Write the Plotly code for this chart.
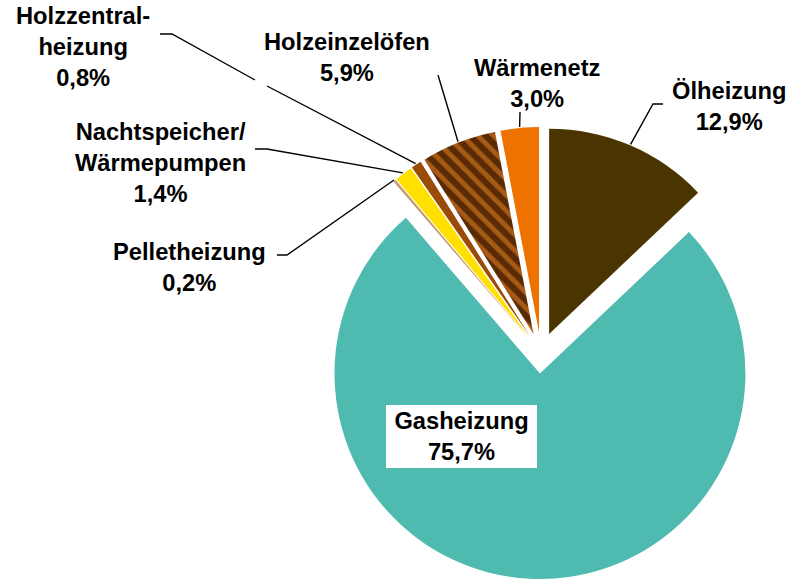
import math
import plotly.graph_objects as go

# ---- data ----
labels = ["Ölheizung", "Gasheizung", "Pelletheizung", "Nachtspeicher/Wärmepumpen",
          "Holzzentralheizung", "Holzeinzelöfen", "Wärmenetz"]
values = [12.9, 75.7, 0.2, 1.4, 0.8, 5.9, 3.0]
label_texts = ["Ölheizung<br>12,9%", "Gasheizung<br>75,7%", "Pelletheizung<br>0,2%",
               "Nachtspeicher/<br>Wärmepumpen<br>1,4%", "Holzzentral-<br>heizung<br>0,8%",
               "Holzeinzelöfen<br>5,9%", "Wärmenetz<br>3,0%"]

colors = ["#4A3500", "#4FBAB0", "#C49A6C", "#FFE000", "#9A4B08", "#5A2A04", "#EE7200"]
pattern_shapes = ["", "", "", "", "", "\\", ""]
pattern_fg = ["#4A3500", "#4FBAB0", "#C49A6C", "#FFE000", "#9A4B08", "#A65A16", "#EE7200"]
pattern_bg = colors

W, H = 792, 579
PULL = 0.10
CX, CY = 541, 353          # pie centre in px (layout)
BOX = 452                  # square domain size in px (layout)

dom_x = [(CX - BOX / 2) / W, (CX + BOX / 2) / W]
dom_y = [1 - (CY + BOX / 2) / H, 1 - (CY - BOX / 2) / H]

fig = go.Figure(go.Pie(
    labels=labels, values=values, sort=False, direction="clockwise", rotation=0,
    pull=[PULL] * len(values), textinfo="none", hoverinfo="label+percent",
    marker=dict(colors=colors, line=dict(width=0),
                pattern=dict(shape=pattern_shapes, fgcolor=pattern_fg, bgcolor=pattern_bg,
                             size=11, solidity=0.45)),
    domain=dict(x=dom_x, y=dom_y), showlegend=False,
))

# label positions (px, layout) for each slice; Gas handled separately
label_pos = {0: (729, 106), 2: (189, 268), 3: (160, 163), 4: (83, 47),
             5: (347, 57), 6: (537, 84)}
# leader-line segments on the label side (px, layout); None = break in line
leader_start = {0: [(663, 104), (653, 104)], 2: [(277, 255), (287, 255)],
                3: [(255, 149), (267, 149)], 4: [(160, 34), (172, 34), (255, 80), None, (267, 86)],
                5: [(438, 75)], 6: [(520, 112)]}

def px2paper(p):
    return p[0] / W, 1 - p[1] / H

R = (BOX / 2) / (1 + PULL)
total = sum(values)
cum = 0.0
font = dict(family="Liberation Sans, Arial, sans-serif", size=23.7, color="black", weight="bold")
for i, v in enumerate(values):
    mid = (cum + v / 2) / total
    cum += v
    th = 2 * math.pi * mid
    ux, uy = math.sin(th), -math.cos(th)
    end = (CX + ((1 + PULL) * R + 1) * ux, CY + ((1 + PULL) * R + 1) * uy)
    if i == 1:
        continue
    pts = leader_start[i] + [end]
    path = ""
    move = True
    for p in pts:
        if p is None:
            move = True
            continue
        x, y = px2paper(p)
        path += ("M" if move else " L") + f" {x:.5f} {y:.5f} "
        move = False
    fig.add_shape(type="path", path=path.strip(), xref="paper", yref="paper",
                  line=dict(color="black", width=1.4))
    lx, ly = px2paper(label_pos[i])
    fig.add_annotation(x=lx, y=ly, xref="paper", yref="paper", text=label_texts[i],
                       showarrow=False, font=font, align="center",
                       xanchor="center", yanchor="middle")

# Gasheizung label inside white box
gx, gy = px2paper((461.5, 436.5))
fig.add_annotation(x=gx, y=gy, xref="paper", yref="paper", text=label_texts[1],
                   showarrow=False, font=font, align="center", bgcolor="white",
                   width=147, height=59, borderpad=2, borderwidth=0,
                   xanchor="center", yanchor="middle")

fig.update_layout(width=W, height=H, margin=dict(l=0, r=0, t=0, b=0),
                  paper_bgcolor="white", plot_bgcolor="white")
fig.write_html("out.html", config={"displayModeBar": False},
               post_script="document.body.style.margin='0px';document.body.style.overflow='hidden';")
